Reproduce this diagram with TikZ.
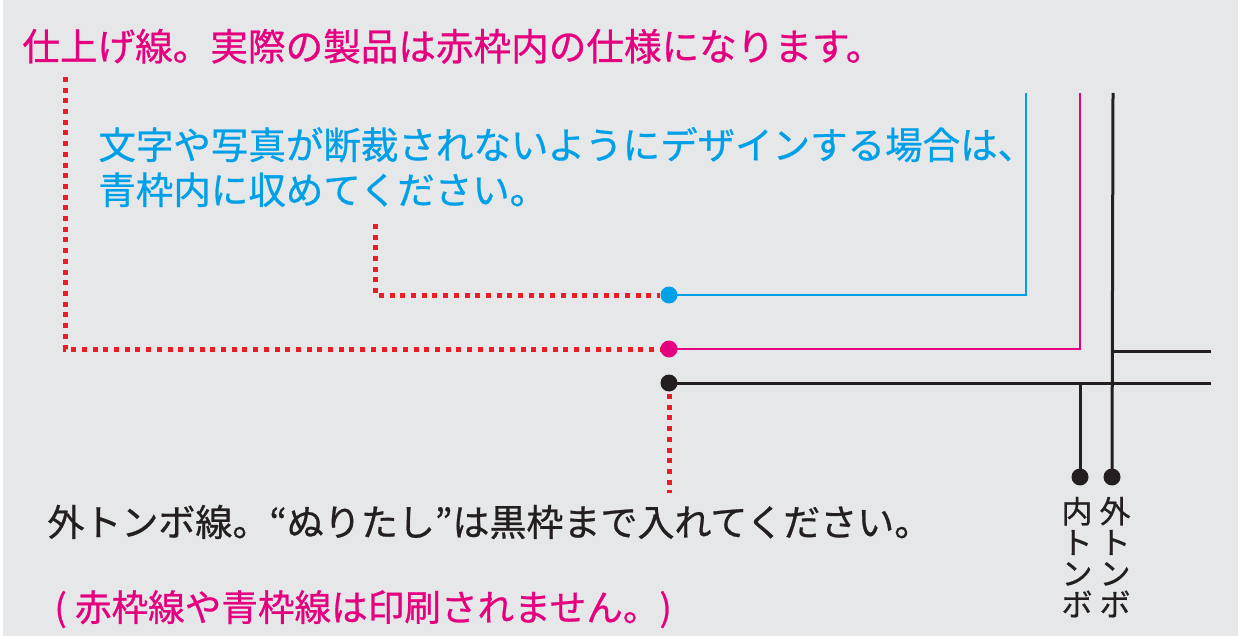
\documentclass[tikz,border=0pt]{standalone}
\usepackage{fontspec}
\newfontfamily\jp[FakeBold=0.7]{Noto Sans CJK JP}
\definecolor{mag}{HTML}{E4007F}
\definecolor{cyanb}{HTML}{00A0E9}
\definecolor{redd}{HTML}{ED1C24}
\definecolor{ink}{HTML}{231F20}
\definecolor{bg}{HTML}{E6E7E8}
\tikzset{
  dotline/.style={redd, line width=2.5pt, dash pattern=on 2.5pt off 2.85pt},
  bline/.style={cyanb, line width=1.1pt},
  mline/.style={mag, line width=1.2pt},
  kline/.style={ink, line width=1.5pt},
  marker/.style={circle, inner sep=0pt, minimum size=8.5pt, fill=#1},
  jtext/.style={inner sep=0pt, anchor=base west, font=\jp\fontsize{#1}{#1}\selectfont},
  vtext/.style={inner sep=0pt, anchor=base, font=\jp\fontsize{15.5}{16}\selectfont, text=ink}
}
\begin{document}
\begin{tikzpicture}[x=0.5pt,y=-0.5pt]
\useasboundingbox (0,0) rectangle (1247,636);
\fill[white] (0,0) rectangle (1247,636);
\fill[bg] (3,0) rectangle (1238,636);

% texts
\node[jtext=18.8, text=mag] (t1) at (22,60.5) {仕上げ線。実際の製品は赤枠内の仕様になります。};
\node[jtext=18.75, text=cyanb] (t2) at (98,159) {文字や写真が断裁されないようにデザインする場合は、};
\node[jtext=18.75, text=cyanb] (t3) at (98,204) {青枠内に収めてください。};
\node[jtext=18.5, text=ink] (t4) at (47,536) {外トンボ線。“ぬりたし”は黒枠まで入れてください。};
\node[jtext=18.3, text=mag] (t5) at (54,621) {( 赤枠線や青枠線は印刷されません。)};

% coordinates
\coordinate (bTop) at (1026,93);
\coordinate (mTop) at (1080,93);
\coordinate (kTop) at (1113,93);
\coordinate (bDot) at (669,295);
\coordinate (mDot) at (669,349);
\coordinate (kDot) at (669,383);
\coordinate (iDot) at (1080,477);
\coordinate (oDot) at (1112,477);
\coordinate (kEnd1) at (1211,351);
\coordinate (kEnd2) at (1211,383);
\coordinate (kJoin) at (1113,351);
\coordinate (iJoin) at (1080,383);

% trim lines
\draw[bline] (bTop) |- (bDot);
\draw[mline] (mTop) |- (mDot);
\draw[kline] (kDot) -- (kEnd2);
\draw[kline] (kTop) -- (oDot);
\draw[kline] (kJoin) -- (kEnd1);
\draw[kline] (iJoin) -- (iDot);

% dotted leaders
\coordinate (d1) at (65,77);
\coordinate (d1c) at (65,349);
\coordinate (d1e) at (660,349);
\coordinate (d2) at (375,224);
\coordinate (d2e) at (660,295);
\coordinate (d3) at (669,394);
\coordinate (d3e) at (669,493);
\draw[dotline] (d1) -- (d1c) -- (d1e);
\draw[dotline] (d2) |- (d2e);
\draw[dotline] (d3) -- (d3e);

% markers
\node[marker=cyanb] (nb) at (bDot) {};
\node[marker=mag] (nm) at (mDot) {};
\node[marker=ink] (nk) at (kDot) {};
\node[marker=ink] (ni) at (iDot) {};
\node[marker=ink] (no) at (oDot) {};

% vertical labels
\node[vtext] (i1) at (1077,523) {内};
\node[vtext] (i2) at (1077,554) {ト};
\node[vtext] (i3) at (1077,585) {ン};
\node[vtext] (i4) at (1077,616) {ボ};
\node[vtext] (o1) at (1115,523) {外};
\node[vtext] (o2) at (1115,554) {ト};
\node[vtext] (o3) at (1115,585) {ン};
\node[vtext] (o4) at (1115,616) {ボ};
\end{tikzpicture}
\end{document}
